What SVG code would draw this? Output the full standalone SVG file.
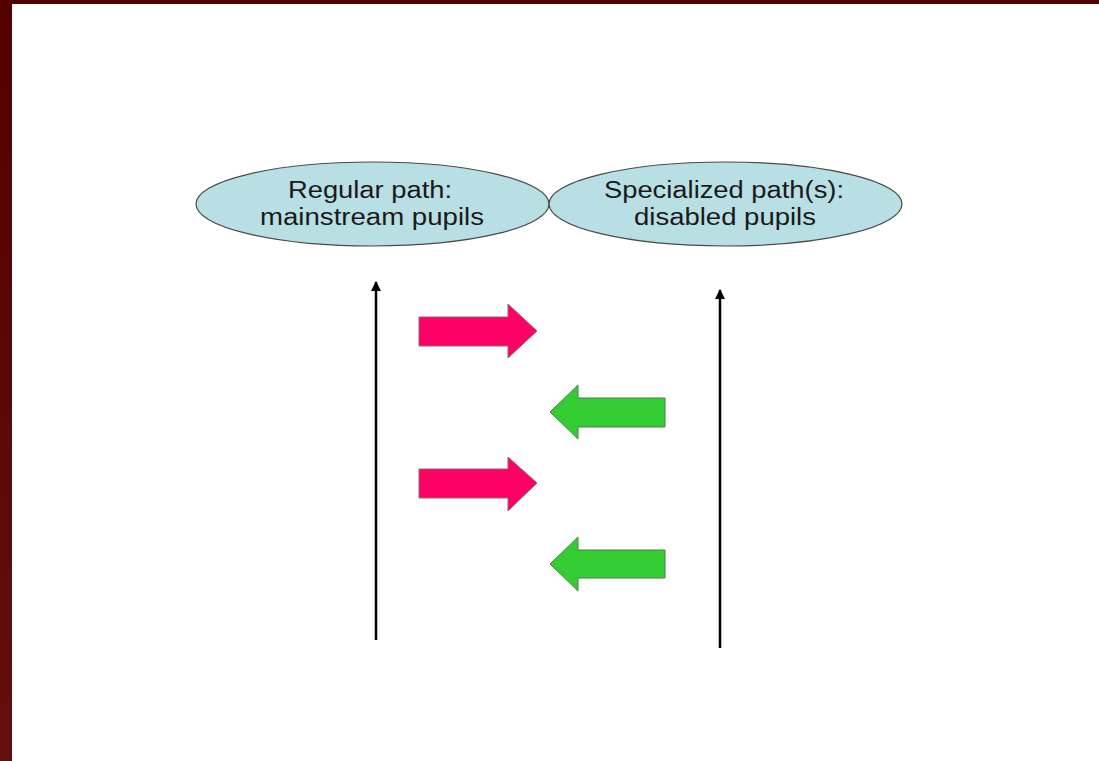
<svg xmlns="http://www.w3.org/2000/svg" width="1099" height="761" viewBox="0 0 1099 761">
  <defs>
    <linearGradient id="frame" x1="0" y1="0" x2="0" y2="1">
      <stop offset="0" stop-color="#520000"/>
      <stop offset="1" stop-color="#640e0e"/>
    </linearGradient>
    <marker id="ah" viewBox="0 0 10 10" refX="9" refY="5" markerWidth="4" markerHeight="4" orient="auto" markerUnits="strokeWidth">
      <path d="M0,0 L10,5 L0,10 Z" fill="#000"/>
    </marker>
    <style>
      .node ellipse { fill: #b8dfe3; stroke: #4a4a4a; stroke-width: 1.2; }
      .node text { font-family: "Liberation Sans", Arial, sans-serif; font-size: 23px; fill: #1a1a1a; text-anchor: middle; }
      .flow { stroke: #000; stroke-width: 2.5; fill: none; marker-end: url(#ah); }
      .red { fill: #ff0066; stroke: #8a6a72; stroke-width: 1; }
      .green { fill: #33cc33; stroke: #4f7f4f; stroke-width: 1; }
    </style>
  </defs>
  <rect x="0" y="0" width="1099" height="761" fill="#ffffff"/>
  <rect x="0" y="0" width="1099" height="4" fill="#520000"/>
  <rect x="0" y="0" width="12" height="761" fill="url(#frame)"/>

  <g id="regular" class="node">
    <ellipse cx="372.5" cy="204" rx="176.5" ry="42"/>
    <text x="370" y="198" textLength="164" lengthAdjust="spacingAndGlyphs">Regular path:</text>
    <text x="372" y="225" textLength="224" lengthAdjust="spacingAndGlyphs">mainstream pupils</text>
  </g>
  <g id="specialized" class="node">
    <ellipse cx="725.5" cy="204" rx="176.5" ry="42"/>
    <text x="724" y="198" textLength="240" lengthAdjust="spacingAndGlyphs">Specialized path(s):</text>
    <text x="725" y="225" textLength="182" lengthAdjust="spacingAndGlyphs">disabled pupils</text>
  </g>

  <g id="connectors">
    <line class="flow" x1="376" y1="640" x2="376" y2="282"/>
    <line class="flow" x1="720" y1="648" x2="720" y2="290"/>
  </g>

  <g id="transfers">
    <polygon id="to-special-1" class="red" points="419,317 508,317 508,304 537,331 508,358 508,346 419,346"/>
    <polygon id="to-regular-1" class="green" points="665,398 578,398 578,385 550,412 578,439 578,427 665,427"/>
    <polygon id="to-special-2" class="red" points="419,469 508,469 508,457 537,483 508,511 508,498 419,498"/>
    <polygon id="to-regular-2" class="green" points="665,550 578,550 578,537 550,564 578,591 578,578 665,578"/>
  </g>
</svg>
